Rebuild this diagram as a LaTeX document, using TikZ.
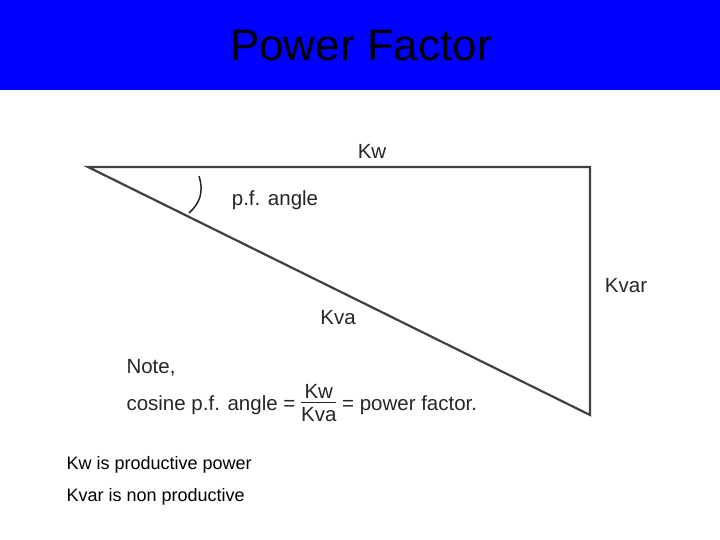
\documentclass[tikz,border=0pt]{standalone}
\usepackage{fontspec}
\setmainfont{Liberation Sans}
\begin{document}
\begin{tikzpicture}[x=1pt,y=-1pt,
  tri/.style={draw=black!75,line width=2.2pt,line join=miter},
  lbl/.style={font=\fontsize{20.5}{24}\selectfont,text=black!85},
  foot/.style={font=\fontsize{18}{21}\selectfont,anchor=west}]
\useasboundingbox (0,0) rectangle (720,540);
\fill[fill={rgb,255:red,0;green,0;blue,255}] (0,0) rectangle (720,90);
\node (title) at (361,46) {\fontsize{44}{50}\selectfont Power Factor};
\coordinate (A) at (88,167);
\coordinate (B) at (590,167);
\coordinate (C) at (590,415);
\draw[tri] (A) -- (B) -- (C) -- cycle;
\draw[black!85,line width=1.5pt] (199,176) .. controls (204,192) and (200,203) .. (189,213);
\node[lbl] (kw) at (372,151) {Kw};
\node[lbl] (pfa) at (275,200) {p.f. angle};
\node[lbl] (kva) at (338,318) {Kva};
\node[lbl] (kvar) at (626,286) {Kvar};
\node[lbl,anchor=west] (note) at (123,368) {Note,};
\node[lbl,anchor=west] (cos) at (123,405) {cosine p.f. angle = \begin{tabular}{@{}c@{}}Kw\\[-4pt]\hline\rule{0pt}{19pt}Kva\end{tabular} = power factor.};
\node[foot] (f1) at (63,465) {Kw is productive power};
\node[foot] (f2) at (63,497) {Kvar is non productive};
\end{tikzpicture}
\end{document}
